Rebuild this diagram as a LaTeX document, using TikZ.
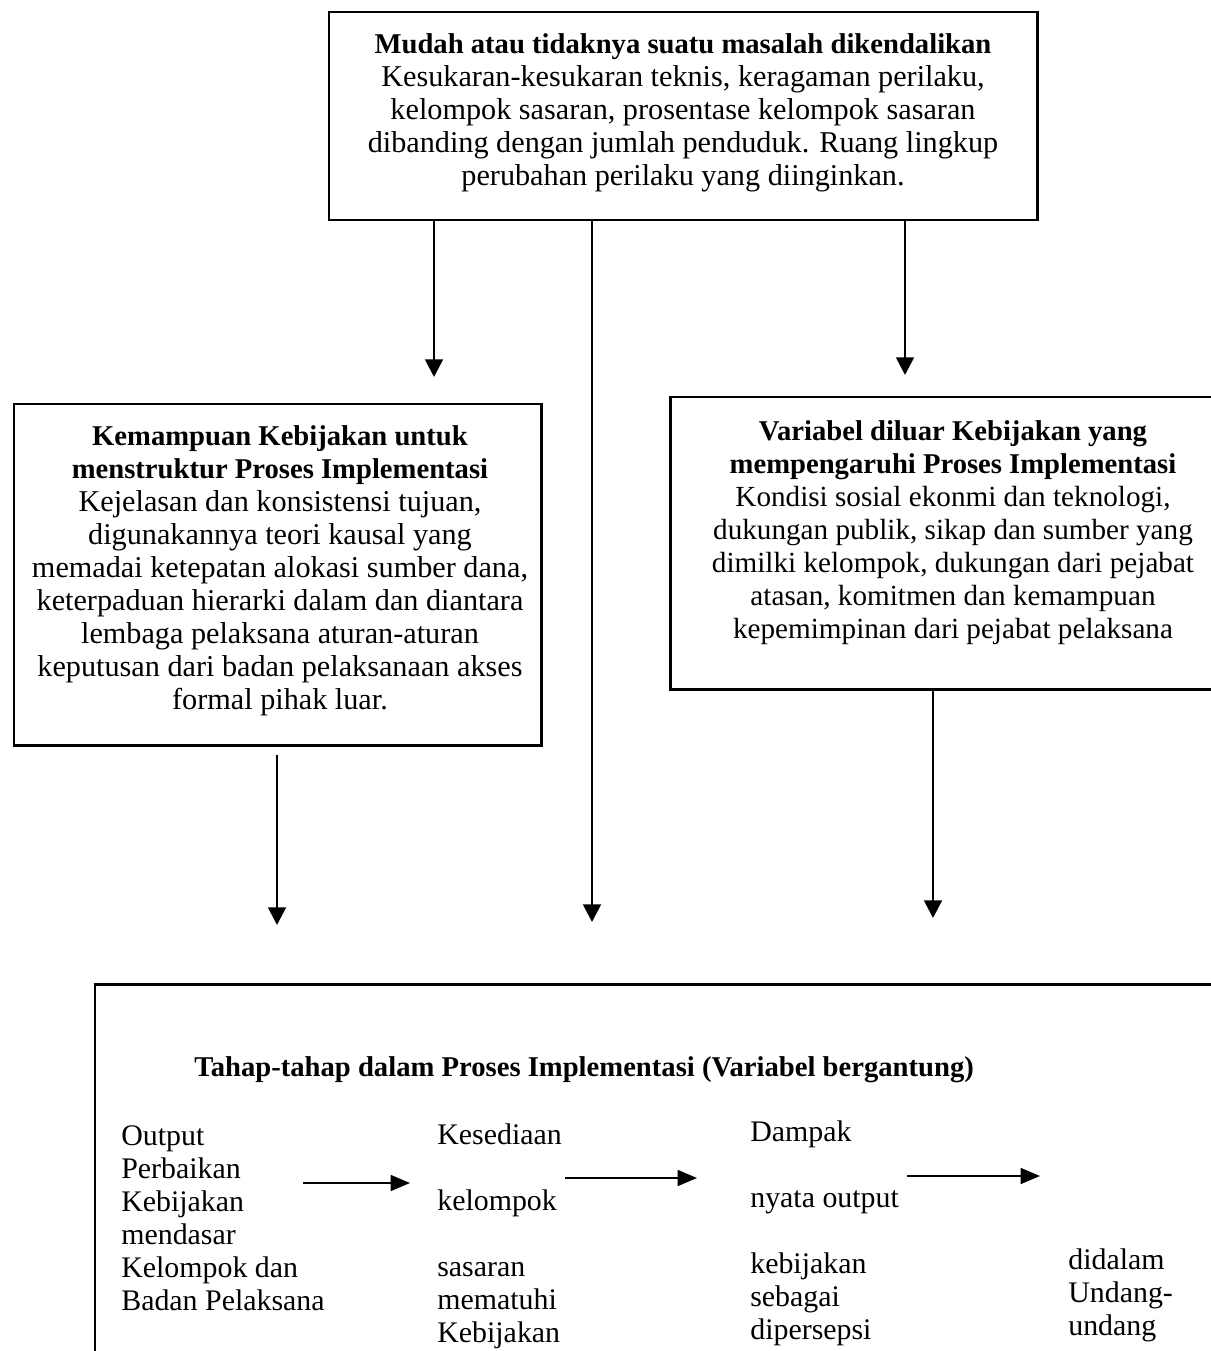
\documentclass[tikz,border=0pt]{standalone}
\usepackage{fontspec}
\setmainfont{Liberation Serif}
\usetikzlibrary{arrows.meta,positioning}
\newcommand{\judul}[1]{{\fontsize{16.3}{18.8}\selectfont\bfseries #1}}

\begin{document}
\begin{tikzpicture}[
  frame/.style={draw, line width=1.7pt, inner sep=0pt},
  txt/.style={align=center, inner sep=0pt, anchor=north,
              font=\fontsize{17.2}{18.8}\selectfont},
  col/.style={align=left, inner sep=0pt, anchor=north west,
              font=\fontsize{17}{18.8}\selectfont},
  arr/.style={line width=1.6pt, -{Triangle[length=10pt,width=10pt]}},
  harr/.style={line width=1.2pt, -{Triangle[length=11pt,width=9pt]}}
]
\useasboundingbox (0,0) rectangle (24.22,-27.02);
% kotak-kotak
\node[frame, minimum width=14.16cm, minimum height=4.16cm] (mudah) at (13.66,-2.32) {};
\node[frame, minimum width=10.54cm, minimum height=6.82cm] (kemampuan) at (5.55,-11.49) {};
\node[frame, minimum width=11.3cm, minimum height=5.84cm] (variabel) at (19.05,-10.86) {};
\node[frame, minimum width=23.3cm, minimum height=8.32cm] (tahap) at (13.55,-23.84) {};
\node[txt, below=0.46cm of mudah.north] (mudahtxt) {
  \judul{Mudah atau tidaknya suatu masalah dikendalikan}\\
  Kesukaran-kesukaran teknis, keragaman perilaku,\\
  kelompok sasaran, prosentase kelompok sasaran\\
  dibanding dengan jumlah penduduk. Ruang lingkup\\
  perubahan perilaku yang diinginkan.};
\node[txt] (kemampuantxt) at (5.6,-8.5) {
  \judul{Kemampuan Kebijakan untuk}\\
  \judul{menstruktur Proses Implementasi}\\
  Kejelasan dan konsistensi tujuan,\\
  digunakannya teori kausal yang\\
  memadai ketepatan alokasi sumber dana,\\
  keterpaduan hierarki dalam dan diantara\\
  lembaga pelaksana aturan-aturan\\
  keputusan dari badan pelaksanaan akses\\
  formal pihak luar.};
\node[txt, font=\fontsize{16.6}{18.8}\selectfont] (variabeltxt) at (19.06,-8.4) {
  \judul{Variabel diluar Kebijakan yang}\\
  \judul{mempengaruhi Proses Implementasi}\\
  Kondisi sosial ekonmi dan teknologi,\\
  dukungan publik, sikap dan sumber yang\\
  dimilki kelompok, dukungan dari pejabat\\
  atasan, komitmen dan kemampuan\\
  kepemimpinan dari pejabat pelaksana};
% isi kotak bawah
\node[col] (judultahap) at (3.88,-21.12)
  {\judul{Tahap-tahap dalam Proses Implementasi (Variabel bergantung)}};
\node[col] (output) at (2.42,-22.5) {Output\\Perbaikan\\Kebijakan\\mendasar\\Kelompok dan\\Badan Pelaksana};
\node[col] (kesediaan) at (8.74,-22.46) {Kesediaan\\[18.8pt]kelompok\\[18.8pt]sasaran\\mematuhi\\Kebijakan};
\node[col] (dampak) at (15.0,-22.4) {Dampak\\[18.8pt]nyata output\\[18.8pt]kebijakan\\sebagai\\dipersepsi};
\node[col] (didalam) at (21.36,-24.96) {didalam\\Undang-\\undang};
% panah
\coordinate (ujungA) at (8.68,-7.54);
\coordinate (ujungB) at (11.84,-18.44);
\coordinate (ujungC) at (18.1,-7.5);
\coordinate (ujungD) at (5.54,-18.5);
\coordinate (ujungE) at (18.66,-18.36);
\draw[arr] (mudah.south -| ujungA) -- (ujungA);
\draw[arr] (mudah.south -| ujungB) -- (ujungB);
\draw[arr] (mudah.south -| ujungC) -- (ujungC);
\draw[arr, shorten <=0.16cm] (kemampuan.south -| ujungD) -- (ujungD);
\draw[arr] (variabel.south -| ujungE) -- (ujungE);
\coordinate (h1a) at (6.06,-23.66);
\coordinate (h1b) at (8.2,-23.66);
\coordinate (h2a) at (11.3,-23.56);
\coordinate (h2b) at (13.94,-23.56);
\coordinate (h3a) at (18.14,-23.52);
\coordinate (h3b) at (20.8,-23.52);
\draw[harr] (h1a) -- (h1b);
\draw[harr] (h2a) -- (h2b);
\draw[harr] (h3a) -- (h3b);
\end{tikzpicture}
\end{document}
